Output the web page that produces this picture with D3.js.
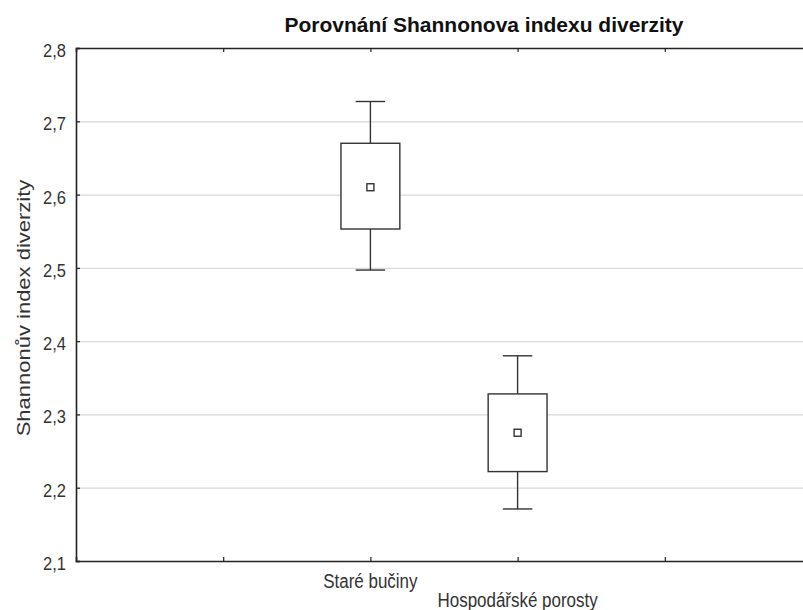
<!DOCTYPE html>
<html>
<head>
<meta charset="utf-8">
<script src="https://cdn.jsdelivr.net/npm/d3@7"></script>
<style>
  body { margin: 0; background: #fff; }
  svg { display: block; font-family: "Liberation Sans", Arial, sans-serif; }
</style>
</head>
<body>
<div id="root"></div>
<script>
const categories = ['Staré bučiny', 'Hospodářské porosty']
const whiskerHigh = [2.727, 2.380]
const boxHigh = [2.670, 2.328]
const means = [2.610, 2.275]
const boxLow = [2.553, 2.222]
const whiskerLow = [2.497, 2.171]
const yTicks = [2.1, 2.2, 2.3, 2.4, 2.5, 2.6, 2.7, 2.8]
const xTicks = [1, 2, 3, 4]

const graph = { width: 803, height: 610, left: 76, right: 812, top: 48, bottom: 561 }
const squeeze = 0.87
const fmt = d3.formatLocale({ decimal: ',', thousands: ' ', grouping: [3], currency: ['', ''] }).format('.1f')

const svg = d3.select('#root')
  .append('svg')
  .attr('width', graph.width)
  .attr('height', graph.height)

const x = d3.scaleLinear().domain([0, 5]).range([graph.left, graph.right])
const y = d3.scaleLinear().domain([2.1, 2.8]).range([graph.bottom, graph.top])

// grid
svg.append('g')
  .attr('transform', `translate(${graph.left},0)`)
  .call(d3.axisLeft(y).tickValues(yTicks.slice(1, -1)).tickSize(-(graph.right - graph.left)).tickFormat(''))
  .call(g => g.select('.domain').remove())
  .call(g => g.selectAll('line').attr('stroke', '#d9d9d9').attr('stroke-width', 1.2))

// title
svg.append('text')
  .attr('transform', `translate(484,32)`)
  .attr('text-anchor', 'middle')
  .attr('font-size', 21)
  .attr('font-weight', 'bold')
  .attr('fill', '#111')
  .text('Porovnání Shannonova indexu diverzity')

// y label
svg.append('text')
  .attr('transform', `translate(30,308) scale(${squeeze},1) rotate(-90)`)
  .attr('text-anchor', 'middle')
  .attr('font-size', 22)
  .attr('fill', '#333')
  .text('Shannonův index diverzity')

// y axis
svg.append('g')
  .attr('transform', `translate(${graph.left},0)`)
  .call(d3.axisLeft(y).tickValues(yTicks).tickSize(-4).tickFormat(fmt))
  .call(g => g.select('.domain').attr('stroke', '#222').attr('stroke-width', 1.6))
  .call(g => g.selectAll('line').attr('stroke', '#222').attr('stroke-width', 1.2))
  .call(g => g.selectAll('text')
    .attr('x', null).attr('dy', null)
    .attr('transform', `translate(-10,8.5) scale(${squeeze},1)`)
    .attr('font-size', 19).attr('fill', '#333').attr('font-family', null))

// bottom and top axes
svg.append('g')
  .attr('transform', `translate(0,${graph.bottom})`)
  .call(d3.axisBottom(x).tickValues(xTicks).tickSize(-4).tickFormat(''))
  .call(g => g.select('.domain').attr('stroke', '#222').attr('stroke-width', 1.6))
  .call(g => g.selectAll('line').attr('stroke', '#222').attr('stroke-width', 1.2))

svg.append('g')
  .attr('transform', `translate(0,${graph.top})`)
  .call(d3.axisTop(x).tickValues(xTicks).tickSize(-4).tickFormat(''))
  .call(g => g.select('.domain').attr('stroke', '#222').attr('stroke-width', 1.6))
  .call(g => g.selectAll('line').attr('stroke', '#222').attr('stroke-width', 1.2))

// category labels
svg.append('g')
  .selectAll('text')
  .data(categories)
  .join('text')
  .attr('transform', (d, i) => `translate(${x(i + 2)},${i === 0 ? 588 : 607}) scale(${squeeze},1)`)
  .attr('text-anchor', 'middle')
  .attr('font-size', 19.5)
  .attr('fill', '#333')
  .text(d => d)

// boxes
const boxW = x(0.4) - x(0)
const capW = x(0.2) - x(0)
const boxes = svg.append('g')
  .attr('stroke', '#333')
  .attr('stroke-width', 1.4)
  .attr('fill', 'none')
  .selectAll('g')
  .data(categories.map((c, i) => i))
  .join('g')

boxes.append('line')
  .attr('x1', i => x(i + 2)).attr('x2', i => x(i + 2))
  .attr('y1', i => y(whiskerHigh[i])).attr('y2', i => y(boxHigh[i]))
boxes.append('line')
  .attr('x1', i => x(i + 2)).attr('x2', i => x(i + 2))
  .attr('y1', i => y(boxLow[i])).attr('y2', i => y(whiskerLow[i]))
boxes.append('line')
  .attr('x1', i => x(i + 2) - capW / 2).attr('x2', i => x(i + 2) + capW / 2)
  .attr('y1', i => y(whiskerHigh[i])).attr('y2', i => y(whiskerHigh[i]))
boxes.append('line')
  .attr('x1', i => x(i + 2) - capW / 2).attr('x2', i => x(i + 2) + capW / 2)
  .attr('y1', i => y(whiskerLow[i])).attr('y2', i => y(whiskerLow[i]))
boxes.append('rect')
  .attr('x', i => x(i + 2) - boxW / 2)
  .attr('width', boxW)
  .attr('y', i => y(boxHigh[i]))
  .attr('height', i => y(boxLow[i]) - y(boxHigh[i]))
  .attr('fill', '#fff')
boxes.append('rect')
  .attr('x', i => x(i + 2) - 3.5)
  .attr('y', i => y(means[i]) - 3.5)
  .attr('width', 7)
  .attr('height', 7)
  .attr('fill', '#fff')
</script>
</body>
</html>
